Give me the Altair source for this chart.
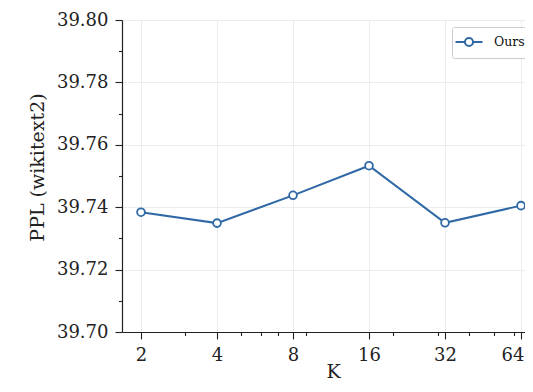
import altair as alt
import pandas as pd

k_values = [2, 4, 8, 16, 32, 64]
ppl_values = [39.7384, 39.7349, 39.7438, 39.7533, 39.7350, 39.7405]
series_names = ["Ours"] * 6

x_major = [2, 4, 8, 16, 32, 64]
x_minor = [3, 5, 6, 7, 9, 20, 30, 40, 50, 60]
y_major = [39.70, 39.72, 39.74, 39.76, 39.78, 39.80]
y_minor = [39.71, 39.73, 39.75, 39.77, 39.79]

df = pd.DataFrame({"K": k_values, "PPL": ppl_values, "series": series_names})

LINE = "#3069a6"
FONT = "DejaVu Serif"

xscale = alt.Scale(type="log", base=2, domain=[1.6818, 66.37], nice=False)
yscale = alt.Scale(domain=[39.70, 39.80], nice=False, zero=False)

legend_symbol = ("M-2,0L-0.6,0M0.6,0L2,0"
                 "M-0.6,0A0.6,0.6 0 1 1 0.6,0A0.6,0.6 0 1 1 -0.6,0")

main = alt.Chart(df).mark_line(
    strokeWidth=2,
    point=alt.OverlayMarkDef(filled=False, fill="white", size=60, strokeWidth=1.8),
).encode(
    x=alt.X("K:Q", scale=xscale, axis=alt.Axis(
        orient="bottom", values=x_major, format="d", title="K", grid=True,
        tickSize=7, labelPadding=7, labelFlush=6, labelFlushOffset=3,
        titleX=211, titleY=45, titleBaseline="alphabetic",
        titleAnchor="middle", titleAlign="center")),
    y=alt.Y("PPL:Q", scale=yscale, axis=alt.Axis(
        orient="left", values=y_major, format=".2f", title="PPL (wikitext2)",
        grid=True, tickSize=7, labelPadding=7, titleX=-85, titleY=147,
        titleBaseline="middle", titleAlign="center", titleAngle=-90)),
    color=alt.Color("series:N", scale=alt.Scale(range=[LINE]), legend=alt.Legend(
        title=None, orient="none", legendX=330, legendY=7,
        symbolType=legend_symbol, symbolSize=182, symbolStrokeWidth=2,
        symbolFillColor="white", symbolStrokeColor=LINE,
        labelFont=FONT, labelFontSize=12.5, labelColor="#111111",
        strokeColor="#cccccc", fillColor="white", padding=7, cornerRadius=2,
        symbolOffset=2, labelOffset=17)),
)

minor = alt.Chart(df).mark_point(opacity=0).encode(
    x=alt.X("K:Q", scale=xscale, axis=alt.Axis(
        orient="bottom", values=x_minor, labels=False, tickSize=3.5,
        domain=False, grid=False, title="")),
    y=alt.Y("PPL:Q", scale=yscale, axis=alt.Axis(
        orient="left", values=y_minor, labels=False, tickSize=3.5,
        domain=False, grid=False, title="")),
)

chart = alt.layer(main, minor).resolve_axis(
    x="independent", y="independent"
).resolve_scale(x="shared", y="shared").properties(
    width=403, height=312,
    autosize=alt.AutoSizeParams(type="none"),
    padding={"left": 114, "top": 12, "right": 0, "bottom": 52},
).configure(background="white").configure_view(stroke=None).configure_axis(
    labelFont=FONT, labelFontSize=18, labelColor="#222222",
    titleFont=FONT, titleFontSize=19, titleFontWeight="normal", titleColor="#222222",
    domainColor="#222222", domainWidth=1.2, tickColor="#222222", tickWidth=1.1,
    gridColor="#e8e8e8", gridWidth=0.8,
)

chart.save("out.html", embed_options={"renderer": "svg", "actions": False})
